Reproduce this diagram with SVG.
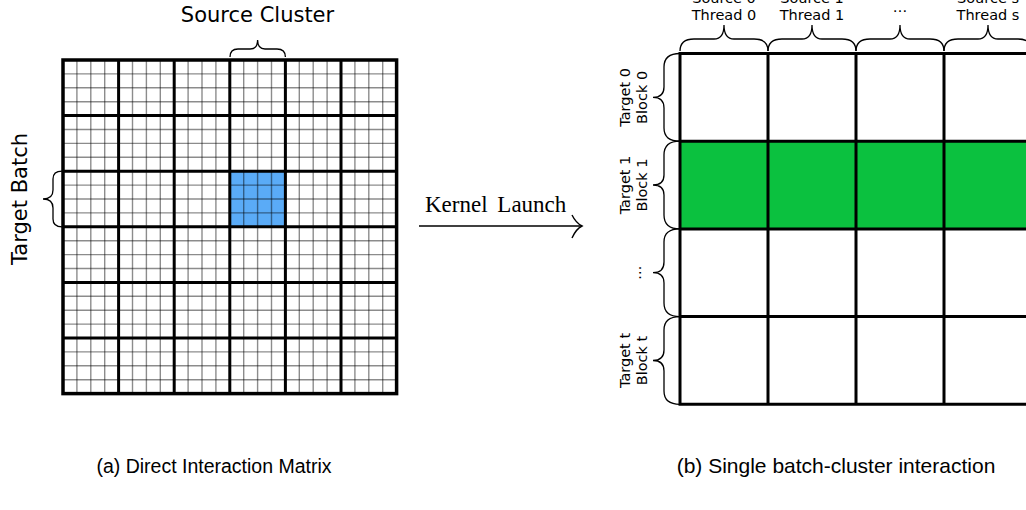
<svg xmlns="http://www.w3.org/2000/svg" width="1026" height="510" viewBox="0 0 1026 510">
<style>
.minor{fill:none;stroke:#000;stroke-opacity:0.45;stroke-width:1.4}
.major{fill:none;stroke:#000;stroke-width:3}
.brace{fill:none;stroke:#000;stroke-width:1.3}
.dv{font-family:"DejaVu Sans",sans-serif;fill:#000}
.lbl{font-family:"DejaVu Sans",sans-serif;font-size:14.5px;fill:#000;text-anchor:middle}
.cap{font-family:"Liberation Sans",Arial,sans-serif;fill:#000;text-anchor:middle}
</style>
<rect x="0" y="0" width="1026" height="510" fill="#fff"/>

<g id="matrix-a">
<rect x="229.8" y="171.2" width="55.6" height="55.6" fill="#5aabf7"/>
<path class="minor" d="M76.9 60V393.6M90.8 60V393.6M104.7 60V393.6M132.5 60V393.6M146.4 60V393.6M160.3 60V393.6M188.1 60V393.6M202 60V393.6M215.9 60V393.6M243.7 60V393.6M257.6 60V393.6M271.5 60V393.6M299.3 60V393.6M313.2 60V393.6M327.1 60V393.6M354.9 60V393.6M368.8 60V393.6M382.7 60V393.6"/>
<path class="minor" d="M63 73.9H396.6M63 87.8H396.6M63 101.7H396.6M63 129.5H396.6M63 143.4H396.6M63 157.3H396.6M63 185.1H396.6M63 199H396.6M63 212.9H396.6M63 240.7H396.6M63 254.6H396.6M63 268.5H396.6M63 296.3H396.6M63 310.2H396.6M63 324.1H396.6M63 351.9H396.6M63 365.8H396.6M63 379.7H396.6"/>
<path class="major" d="M118.6 60V393.6M174.2 60V393.6M229.8 60V393.6M285.4 60V393.6M341 60V393.6M63 115.6H396.6M63 171.2H396.6M63 226.8H396.6M63 282.4H396.6M63 338H396.6"/>
<rect x="63" y="60" width="333.6" height="333.6" fill="none" stroke="#000" stroke-width="3.5"/>
</g>

<g id="label-source-cluster">
<text class="dv" x="257.5" y="22" font-size="21" text-anchor="middle">Source Cluster</text>
<path class="brace" d="M230 57Q230 49 238 49L250 49Q257.6 49 257.6 40Q257.6 49 265 49L277 49Q285.4 49 285.4 57"/>
</g>

<g id="label-target-batch">
<text class="dv" font-size="21" text-anchor="middle" transform="translate(27 199) rotate(-90)">Target Batch</text>
<path class="brace" d="M62 171.2Q53 171.2 53 179L53 190Q53 199 43 199Q53 199 53 208L53 219Q53 226.8 62 226.8"/>
</g>

<g id="connectors">
<g id="edge-kernel-launch">
<line x1="419" y1="226" x2="581" y2="226" stroke="#000" stroke-width="1.4"/>
<path d="M572 215Q576 223 582 226Q576 229 572 238" fill="none" stroke="#000" stroke-width="1.4"/>
<text x="425" y="212" font-family="Liberation Serif,'Times New Roman',serif" font-size="23" word-spacing="4" fill="#000">Kernel Launch</text>
</g>
</g>

<g id="matrix-b">
<rect x="680" y="141.2" width="360" height="87.7" fill="#0bc13f"/>
<path class="major" d="M768 53.5V404.3M856 53.5V404.3M944 53.5V404.3M680 141.2H1030M680 228.9H1030M680 316.6H1030"/>
<path class="major" d="M1030 53.5H680V404.3H1030"/>
</g>

<g id="col-0">
<text class="lbl" x="724" y="3">Source 0</text>
<text class="lbl" x="724" y="20">Thread 0</text>
<path class="brace" d="M680 51Q680 39 694 39L714 39Q724 39 724 25Q724 39 734 39L754 39Q768 39 768 51"/>
</g>
<g id="col-1">
<text class="lbl" x="812" y="3">Source 1</text>
<text class="lbl" x="812" y="20">Thread 1</text>
<path class="brace" d="M768 51Q768 39 782 39L802 39Q812 39 812 25Q812 39 822 39L842 39Q856 39 856 51"/>
</g>
<g id="col-dots">
<text class="lbl" x="900" y="12">…</text>
<path class="brace" d="M856 51Q856 39 870 39L890 39Q900 39 900 25Q900 39 910 39L930 39Q944 39 944 51"/>
</g>
<g id="col-s">
<text class="lbl" x="988" y="3">Source s</text>
<text class="lbl" x="988" y="20">Thread s</text>
<path class="brace" d="M944 51Q944 39 958 39L978 39Q988 39 988 25Q988 39 998 39L1018 39Q1032 39 1032 51"/>
</g>

<g id="row-0">
<text class="lbl" transform="translate(630 97.4) rotate(-90)">Target 0</text>
<text class="lbl" transform="translate(647 97.4) rotate(-90)">Block 0</text>
<path class="brace" d="M680 53.5Q664 53.5 664 67L664 87Q664 97.4 653 97.4Q664 97.4 664 108L664 128Q664 141.2 680 141.2"/>
</g>
<g id="row-1">
<text class="lbl" transform="translate(630 185) rotate(-90)">Target 1</text>
<text class="lbl" transform="translate(647 185) rotate(-90)">Block 1</text>
<path class="brace" d="M680 141.2Q664 141.2 664 155L664 175Q664 185 653 185Q664 185 664 195L664 215Q664 228.9 680 228.9"/>
</g>
<g id="row-dots">
<text class="lbl" transform="translate(641 272.7) rotate(-90)">…</text>
<path class="brace" d="M680 228.9Q664 228.9 664 242L664 262Q664 272.7 653 272.7Q664 272.7 664 283L664 303Q664 316.6 680 316.6"/>
</g>
<g id="row-t">
<text class="lbl" transform="translate(630 360.5) rotate(-90)">Target t</text>
<text class="lbl" transform="translate(647 360.5) rotate(-90)">Block t</text>
<path class="brace" d="M680 316.6Q664 316.6 664 330L664 350Q664 360.5 653 360.5Q664 360.5 664 371L664 391Q664 404.3 680 404.3"/>
</g>

<g id="captions">
<text class="cap" x="214" y="473" font-size="19.5">(a) Direct Interaction Matrix</text>
<text class="cap" x="836" y="473" font-size="21">(b) Single batch-cluster interaction</text>
</g>
</svg>
